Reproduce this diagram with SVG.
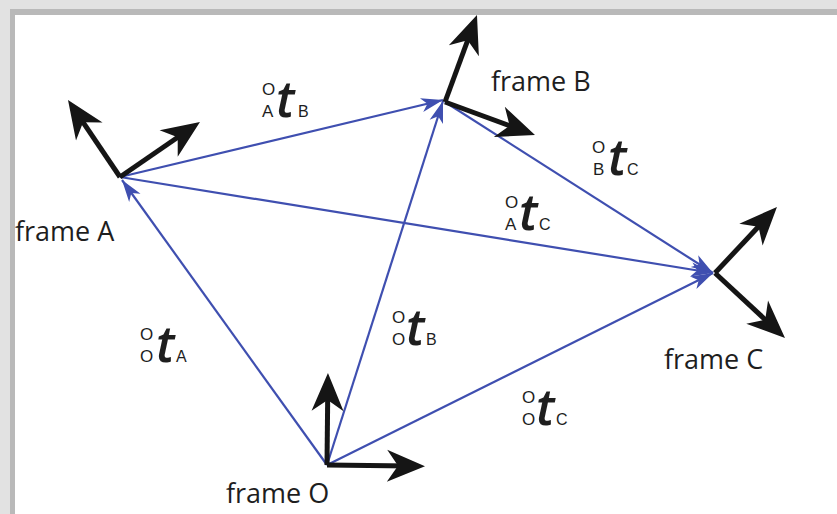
<svg xmlns="http://www.w3.org/2000/svg" width="837" height="514" viewBox="0 0 837 514">
<style>
.frm{font-family:"Open Sans","Liberation Sans",sans-serif;font-size:27px;fill:#1e1e1e}
.lb{fill:#1e1e1e}
.pre{font-family:"Liberation Sans",Arial,sans-serif;font-size:17px}
.tt{font-family:"Open Sans","Liberation Sans",sans-serif;font-size:50px;font-style:italic;font-weight:600}
.sub{font-family:"Liberation Sans",Arial,sans-serif;font-size:16px}
.ax{stroke:#151515;stroke-width:5;fill:none;marker-end:url(#kh)}
.bl{stroke:#3f4fb0;stroke-width:2.2;fill:none;marker-end:url(#bh)}
</style>
<defs>
<marker id="kh" markerUnits="userSpaceOnUse" viewBox="0 -17 39 34" markerWidth="39" markerHeight="34" refX="23" refY="0" orient="auto" overflow="visible">
<path d="M0,-16 L38,0 L0,16 L11,0 z" fill="#151515"/>
</marker>
<marker id="bh" markerUnits="userSpaceOnUse" viewBox="0 -8 23 16" markerWidth="23" markerHeight="16" refX="22" refY="0" orient="auto" overflow="visible">
<path d="M0,-7 L22,0 L0,7 L6,0 z" fill="#3f4fb0"/>
</marker>
</defs>
<rect x="0" y="0" width="837" height="514" fill="#e2e2e2"/>
<rect x="10" y="9" width="827" height="505" fill="#b9b9b9"/>
<rect x="15" y="15" width="822" height="499" fill="#ffffff"/>
<g id="connectors">
<path class="bl" d="M327,465 L122,180"/>
<path class="bl" d="M327,465 L443,101"/>
<path class="bl" d="M327,465 L713,273"/>
<path class="bl" d="M120,177 L443,100"/>
<path class="bl" d="M120,177 L713,273"/>
<path class="bl" d="M445,102 L713,273"/>
</g>
<g id="frameO">
<path class="ax" d="M327,465 L327.8,388"/>
<path class="ax" d="M327,465 L410,466"/>
<text class="frm" x="226" y="503">frame O</text>
</g>
<g id="frameA">
<path class="ax" d="M120,177 L76.4,112.4"/>
<path class="ax" d="M120,177 L187.6,130.5"/>
<text class="frm" x="15" y="241">frame A</text>
</g>
<g id="frameB">
<path class="ax" d="M445,102 L471.8,29.1"/>
<path class="ax" d="M445,102 L520.9,129.8"/>
<text class="frm" x="491" y="91">frame B</text>
</g>
<g id="frameC">
<path class="ax" d="M715,273 L766.7,217.9"/>
<path class="ax" d="M715,273 L774,327.8"/>
<text class="frm" x="664" y="369">frame C</text>
</g>
<g id="labels">
<text id="lAB" class="lb"><tspan class="pre" x="262" y="95">O</tspan><tspan class="pre" x="262" y="117">A</tspan><tspan class="tt" x="276" y="117">t</tspan><tspan class="sub" x="298" y="117">B</tspan></text>
<text id="lBC" class="lb"><tspan class="pre" x="592" y="153">O</tspan><tspan class="pre" x="593" y="175">B</tspan><tspan class="tt" x="608" y="175">t</tspan><tspan class="sub" x="627" y="175">C</tspan></text>
<text id="lOA" class="lb"><tspan class="pre" x="140" y="340">O</tspan><tspan class="pre" x="140" y="362">O</tspan><tspan class="tt" x="156" y="362">t</tspan><tspan class="sub" x="176" y="362">A</tspan></text>
<text id="lOB" class="lb"><tspan class="pre" x="392" y="323">O</tspan><tspan class="pre" x="392" y="345">O</tspan><tspan class="tt" x="406" y="345">t</tspan><tspan class="sub" x="426" y="345">B</tspan></text>
<text id="lAC" class="lb"><tspan class="pre" x="505" y="208">O</tspan><tspan class="pre" x="505" y="230">A</tspan><tspan class="tt" x="519" y="230">t</tspan><tspan class="sub" x="539" y="230">C</tspan></text>
<text id="lOC" class="lb"><tspan class="pre" x="522" y="403">O</tspan><tspan class="pre" x="522" y="425">O</tspan><tspan class="tt" x="536" y="425">t</tspan><tspan class="sub" x="556" y="425">C</tspan></text>
</g>
</svg>
